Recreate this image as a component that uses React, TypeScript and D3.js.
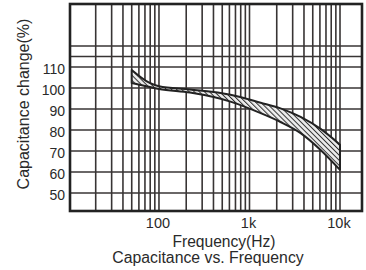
import React from "react";
import * as d3 from "d3";

// band
const freqs = [50, 79, 100, 220, 616, 1330, 2200, 3670, 6100, 10000];
const upperPct = [108.6, 102.4, 100.8, 99.3, 96.8, 93, 90.3, 86.2, 80.5, 73];
const lowerPct = [102.4, 100.5, 99.5, 97.8, 93.5, 88, 83.8, 78.5, 70.5, 61];

const yTicks = [50, 60, 70, 80, 90, 100, 110];
const yExtraLines = [115, 120];
const xTickLabels = [
  { v: 100, label: "100" },
  { v: 1000, label: "1k" },
  { v: 10000, label: "10k" },
];

const W = 366;
const H = 270;
const left = 70;
const right = 362;
const top = 4;
const bottom = 211;

export default function App() {
  const x = d3.scaleLog().domain([10.4, 17500]).range([left, right]);
  const y = d3.scaleLinear().domain([41.4, 140]).range([bottom, top]);

  const xGrid: number[] = [];
  for (let dec = 10; dec <= 1000; dec *= 10) {
    for (let m = 2; m <= 10; m++) xGrid.push(dec * m);
  }

  const band = freqs.map((f, i) => ({ f, hi: upperPct[i], lo: lowerPct[i] }));
  const area = d3
    .area<{ f: number; hi: number; lo: number }>()
    .x((d) => x(d.f))
    .y0((d) => y(d.lo))
    .y1((d) => y(d.hi))
    .curve(d3.curveMonotoneX);

  const font = "'Liberation Sans', Arial, sans-serif";
  const ink = "#2a2a2a";
  const grid = "#383434";

  return (
    <svg
      width={W}
      height={H}
      style={{ position: "absolute", left: 0, top: 0, background: "#fff" }}
      fontFamily={font}
    >
      <defs>
        <pattern
          id="hatch"
          patternUnits="userSpaceOnUse"
          width={3.6}
          height={3.6}
          patternTransform="rotate(-45)"
        >
          <rect width={3.6} height={3.6} fill="#eeeeee" />
          <line x1={0} y1={0} x2={0} y2={3.6} stroke="#2e2e2e" strokeWidth={2} />
        </pattern>
      </defs>

      {/* grid */}
      {xGrid.map((v) => (
        <line
          key={"gx" + v}
          x1={x(v)}
          x2={x(v)}
          y1={top}
          y2={bottom}
          stroke={grid}
          strokeWidth={1.6}
        />
      ))}
      {yTicks.concat(yExtraLines).map((v) => (
        <line
          key={"gy" + v}
          x1={left}
          x2={right}
          y1={y(v)}
          y2={y(v)}
          stroke={grid}
          strokeWidth={1.6}
        />
      ))}

      {/* band */}
      <path
        d={area(band) || ""}
        fill="url(#hatch)"
        stroke="#222"
        strokeWidth={2}
        strokeLinejoin="round"
      />

      {/* frame */}
      <rect
        x={left}
        y={top}
        width={right - left}
        height={bottom - top}
        fill="none"
        stroke="#222"
        strokeWidth={2.6}
      />

      {/* y tick labels */}
      {yTicks.map((v) => (
        <text
          key={"ty" + v}
          x={65}
          y={y(v) + 3}
          textAnchor="end"
          dominantBaseline="middle"
          fontSize={14}
          fill={ink}
        >
          {v}
        </text>
      ))}

      {/* x tick labels */}
      {xTickLabels.map((t) => (
        <text
          key={"tx" + t.v}
          x={x(t.v) - 1}
          y={228}
          textAnchor="middle"
          fontSize={14.5}
          fill={ink}
        >
          {t.label}
        </text>
      ))}

      <text x={224} y={247} textAnchor="middle" fontSize={15.6} fill={ink}>
        Frequency(Hz)
      </text>
      <text x={208} y={263} textAnchor="middle" fontSize={15.8} fill={ink}>
        Capacitance vs. Frequency
      </text>

      <text
        transform={`translate(29, 104) rotate(-90)`}
        textAnchor="middle"
        fontSize={16}
        fill={ink}
      >
        Capacitance change(%)
      </text>
    </svg>
  );
}
